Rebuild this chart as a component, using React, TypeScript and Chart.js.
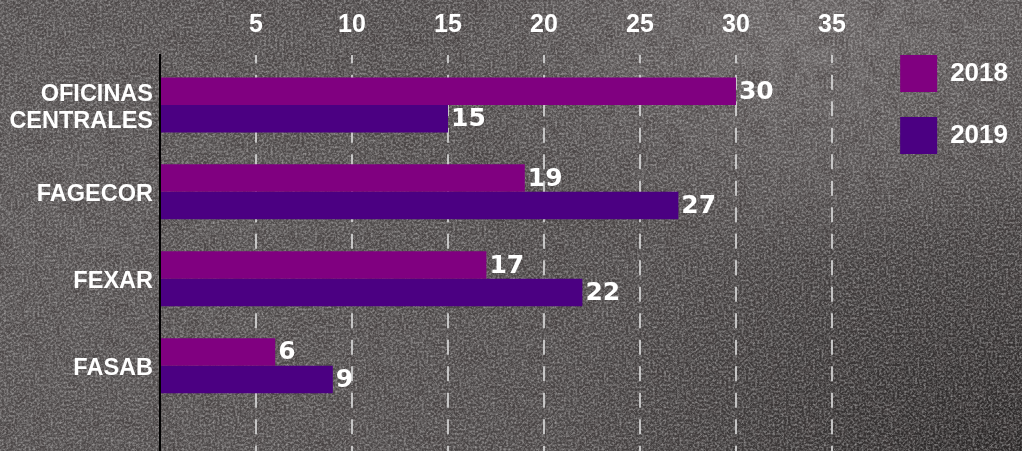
import React, { useEffect, useRef } from "react";
import { Chart, registerables } from "chart.js";

Chart.register(...registerables);

// ---- Data ----
const categories: (string | string[])[] = [["OFICINAS", "CENTRALES"], "FAGECOR", "FEXAR", "FASAB"];
const seriesNames = ["2018", "2019"];
const values2018 = [30, 19, 17, 6];
const values2019 = [15, 27, 22, 9];
const seriesColors = ["#800080", "#4B0082"];
const xStep = 5;
const xMin = 0;
const xMax = 37.25;
const yMin = -0.575;
const yMax = 3.982;

const noiseSvg =
  "data:image/svg+xml;utf8," +
  encodeURIComponent(
    "<svg xmlns='http://www.w3.org/2000/svg' width='1022' height='451'>" +
      "<filter id='n' x='0' y='0' width='100%' height='100%'>" +
      "<feTurbulence type='fractalNoise' baseFrequency='0.45' numOctaves='4' seed='11' stitchTiles='stitch'/>" +
      "<feColorMatrix values='0 0 0 0 0.8  0 0 0 0 0.79  0 0 0 0 0.79  0.9 0 0 0 -0.32'/></filter>" +
      "<filter id='m' x='0' y='0' width='100%' height='100%'>" +
      "<feTurbulence type='fractalNoise' baseFrequency='0.06' numOctaves='3' seed='3'/>" +
      "<feColorMatrix values='0 0 0 0 0.05  0 0 0 0 0.04  0 0 0 0 0.04  -1.0 0 0 0 0.6'/></filter>" +
      "<rect width='100%' height='100%' filter='url(#m)'/>" +
      "<rect width='100%' height='100%' filter='url(#n)'/></svg>"
  );

const valueLabelPlugin = {
  id: "valueLabels",
  afterDatasetsDraw(chart: any) {
    const ctx = chart.ctx;
    ctx.save();
    ctx.font = 'bold 25px "DejaVu Sans"';
    ctx.fillStyle = "#ffffff";
    ctx.textAlign = "left";
    ctx.textBaseline = "middle";
    chart.data.datasets.forEach((ds: any, di: number) => {
      const meta = chart.getDatasetMeta(di);
      meta.data.forEach((el: any, i: number) => {
        const v = ds.data[i].x;
        ctx.fillText(String(v), el.x + 3, el.y + 1);
      });
    });
    ctx.restore();
  },
};

export default function App() {
  const canvasRef = useRef<HTMLCanvasElement | null>(null);

  useEffect(() => {
    document.body.style.margin = "0";
    const canvas = canvasRef.current;
    if (!canvas) return;
    const allSeries = [values2018, values2019];
    const chart = new Chart(canvas, {
      type: "bar",
      data: {
        datasets: allSeries.map((vals, si) => ({
          label: seriesNames[si],
          data: vals.map((v, i) => ({ x: v, y: i })),
          backgroundColor: seriesColors[si],
          borderWidth: 0,
          categoryPercentage: 0.633,
          barPercentage: 1,
        })),
      },
      options: {
        indexAxis: "y",
        animation: false,
        responsive: false,
        devicePixelRatio: 1,
        layout: { padding: { top: 0, right: 4, left: 0, bottom: 0 } },
        scales: {
          x: {
            type: "linear",
            position: "top",
            min: xMin,
            max: xMax,
            afterFit: (scale: any) => {
              scale.height = 55;
            },
            ticks: {
              stepSize: xStep,
              includeBounds: false,
              color: "#ffffff",
              font: { family: '"Liberation Sans", Arial, sans-serif', size: 25, weight: "bold" },
              padding: 15,
              maxRotation: 0,
              callback: (v: any) => (v === 0 ? "" : String(v)),
            },
            grid: {
              drawTicks: false,
              lineWidth: 2,
              color: (c: any) => (c.tick && c.tick.value === 0 ? "rgba(0,0,0,0)" : "rgba(215,215,215,0.85)"),
            },
            border: { display: false, dash: [15, 11.5], dashOffset: 6.7 },
          },
          y: {
            type: "linear",
            reverse: true,
            min: yMin,
            max: yMax,
            offset: false,
            afterFit: (scale: any) => {
              scale.width = 160;
              scale.paddingTop = 0;
              scale.paddingBottom = 0;
            },
            afterBuildTicks: (scale: any) => {
              scale.ticks = categories.map((_, i) => ({ value: i }));
            },
            ticks: {
              autoSkip: false,
              color: "#ffffff",
              font: { family: '"Liberation Sans", Arial, sans-serif', size: 23.5, weight: "bold", lineHeight: 1.13 },
              padding: 7,
              labelOffset: 3,
              callback: (v: any) => categories[v] as any,
            },
            grid: { display: false, drawTicks: false, offset: false },
            border: { display: true, color: "#000000", width: 2 },
          },
        },
        plugins: {
          legend: {
            position: "right",
            align: "start",
            title: { display: true, text: "", padding: 0, font: { size: 25, lineHeight: 1.2 } },
            labels: {
              boxWidth: 37,
              boxHeight: 37,
              padding: 25,
              color: "#ffffff",
              font: { family: '"Liberation Sans", Arial, sans-serif', size: 26, weight: "bold" },
            },
          },
          tooltip: { enabled: false },
        },
      } as any,
      plugins: [valueLabelPlugin],
    });
    return () => chart.destroy();
  }, []);

  const bg =
    `url("${noiseSvg}"), ` +
    "radial-gradient(ellipse 380px 240px at 800px 20px, rgba(150,145,145,0.40), rgba(150,145,145,0) 100%), " +
    "radial-gradient(ellipse 480px 300px at 1022px 451px, rgba(10,8,8,0.55), rgba(10,8,8,0) 100%), " +
    "radial-gradient(ellipse 520px 420px at 60px 200px, rgba(120,116,116,0.25), rgba(120,116,116,0) 100%), " +
    "#4c4848";

  return (
    <div style={{ width: 1022, height: 451, position: "relative", background: bg }}>
      <canvas ref={canvasRef} width={1022} height={451} style={{ display: "block" }} />
    </div>
  );
}
